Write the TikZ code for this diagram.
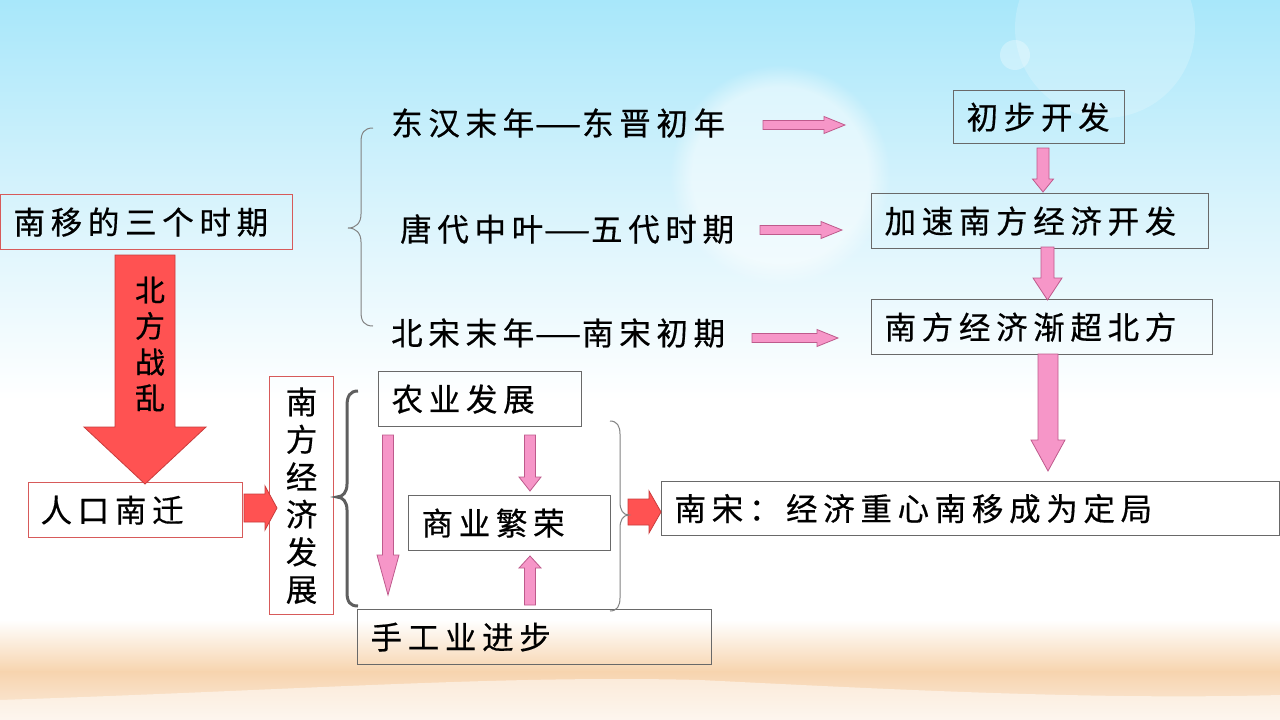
\documentclass[tikz,border=0pt]{standalone}
\usepackage{fontspec}
\newfontfamily\cjk[LetterSpace=18,FakeBold=0.5]{Noto Sans CJK SC}
\newfontfamily\cjkv[FakeBold=0.5]{Noto Sans CJK SC}
\usetikzlibrary{calc,fadings}
\definecolor{sky}{RGB}{168,231,250}
\definecolor{skymid}{RGB}{215,243,252}
\definecolor{sand}{RGB}{247,212,174}
\definecolor{cream}{RGB}{251,236,222}
\definecolor{redfill}{RGB}{255,82,82}
\definecolor{redline}{RGB}{200,60,60}
\definecolor{boxred}{RGB}{215,90,90}
\definecolor{boxgray}{RGB}{105,105,105}
\definecolor{pinkfill}{RGB}{246,150,200}
\definecolor{pinkline}{RGB}{190,90,140}
\definecolor{bracegray}{RGB}{130,130,130}
\definecolor{bracedark}{RGB}{95,95,95}
\newcommand\dash{\scalebox{1.7}[1]{—}}
\tikzset{
  txt/.style={font=\cjk\fontsize{31.5}{37.5}\selectfont},
  lbl/.style={txt, inner sep=0pt, anchor=west},
  box/.style={txt, draw=boxgray, line width=1.2pt, anchor=north west, inner xsep=13pt, inner ysep=0pt, align=left},
  rbox/.style={box, draw=boxred},
  vtxt/.style={font=\cjkv\fontsize{31.5}{37.5}\selectfont, align=center, inner sep=0pt},
  pinkarr/.style={fill=pinkfill, draw=pinkline, line width=0.8pt},
  redarr/.style={fill=redfill, draw=redline, line width=0.8pt},
  thinbrace/.style={draw=bracegray, line width=1pt},
  thickbrace/.style={draw=bracedark, line width=3pt},
}
% block arrow: style, from, to, shaft half width, head half width, head length
\newcommand\blk[6]{%
  \path[#1] let \p1=(#2), \p2=(#3), \n1={veclen(\x2-\x1,\y2-\y1)}, \n2={atan2(\y2-\y1,\x2-\x1)} in
    [shift={(\p1)}, rotate=\n2]
    (0,#4) -- ({\n1-#6},#4) -- ({\n1-#6},#5) -- (\n1,0) -- ({\n1-#6},-#5) -- ({\n1-#6},-#4) -- (0,-#4) -- cycle;%
}
\begin{document}
\begin{tikzpicture}[x=1pt,y=-1pt]
\useasboundingbox (0,0) rectangle (1280,720);
% background
\shade[top color=sky, bottom color=skymid] (0,0) rectangle (1280,200);
\shade[top color=skymid, bottom color=white] (0,199) rectangle (1280,400);
\fill[white] (0,399) rectangle (1280,621);
\shade[top color=white, bottom color=sand] (0,620) rectangle (1280,672);
\shade[top color=sand, bottom color=cream] (0,671) rectangle (1280,720);
\fill[white, opacity=0.5] (0,700) .. controls (300,690) and (500,675) .. (700,680) .. controls (900,690) and (1100,700) .. (1280,695) -- (1280,720) -- (0,720) -- cycle;
\fill[white, opacity=0.5, path fading=circle with fuzzy edge 20 percent] (780,175) circle (110);
\fill[white, opacity=0.2] (1105,28) circle (90);
\fill[white, opacity=0.3] (1015,55) circle (15);

% boxes
\node[rbox, minimum width=292pt, minimum height=55pt, text width=266pt] (period) at (0,194) {南移的三个时期};
\node[rbox, minimum width=214pt, minimum height=55pt, text width=190pt, inner xsep=12pt] (renkou) at (28,482) {人口南迁};
\node[rbox, minimum width=64pt, minimum height=238pt, inner xsep=12pt, text width=40pt, align=center, font=\cjkv\fontsize{31.5}{37.5}\selectfont] (nfjj) at (269,376) {南\\方\\经\\济\\发\\展};
\node[box, minimum width=203pt, minimum height=55pt, text width=177pt] (nongye) at (378,371) {农业发展};
\node[box, minimum width=202pt, minimum height=55pt, text width=176pt] (shangye) at (408,495) {商业繁荣};
\node[box, minimum width=354pt, minimum height=55pt, text width=328pt] (shougong) at (357,609) {手工业进步};
\node[box, minimum width=618pt, minimum height=54pt, text width=592pt] (nansong) at (661,481) {南宋：经济重心南移成为定局};
\node[box, minimum width=171pt, minimum height=53pt, text width=145pt] (chubu) at (953,90) {初步开发};
\node[box, minimum width=337pt, minimum height=55pt, text width=311pt] (jiasu) at (871,193) {加速南方经济开发};
\node[box, minimum width=341pt, minimum height=55pt, text width=315pt] (jianchao) at (871,299) {南方经济渐超北方};

% period labels
\node[lbl] (p1) at (391,123) {东汉末年\dash 东晋初年};
\node[lbl] (p2) at (400,229) {唐代中叶\dash 五代时期};
\node[lbl] (p3) at (391,333) {北宋末年\dash 南宋初期};

% arrow end points
\coordinate (bigS) at (145,255);  \coordinate (bigE) at (145,484);
\coordinate (r1S) at (244,508);   \coordinate (r1E) at (277,508);
\coordinate (r2S) at (628,512);   \coordinate (r2E) at (661,512);
\coordinate (a1S) at (763,125);   \coordinate (a1E) at (845,125);
\coordinate (a2S) at (760,230);   \coordinate (a2E) at (842,230);
\coordinate (a3S) at (752,338);   \coordinate (a3E) at (838,338);
\coordinate (v1S) at (1043,148);  \coordinate (v1E) at (1043,192);
\coordinate (v2S) at (1047.5,247);\coordinate (v2E) at (1047.5,300);
\coordinate (v3S) at (1048,354);  \coordinate (v3E) at (1048,471);
\coordinate (v4S) at (388,435);   \coordinate (v4E) at (388,595);
\coordinate (v5S) at (530,435);   \coordinate (v5E) at (530,491);
\coordinate (v6S) at (530,605);   \coordinate (v6E) at (530,556);

% red arrows
\blk{redarr}{bigS}{bigE}{30}{61}{57}
\node[vtxt, font=\cjkv\fontsize{30}{36}\selectfont] (zhanluan) at (150,344) {北\\方\\战\\乱};
\blk{redarr}{r1S}{r1E}{14}{22}{12}
\blk{redarr}{r2S}{r2E}{13}{21}{12}

% pink arrows
\blk{pinkarr}{a1S}{a1E}{4.5}{8.5}{21}
\blk{pinkarr}{a2S}{a2E}{4.5}{8.5}{21}
\blk{pinkarr}{a3S}{a3E}{4.5}{8.5}{21}
\blk{pinkarr}{v1S}{v1E}{6}{10.5}{13}
\blk{pinkarr}{v2S}{v2E}{6.5}{14.5}{22}
\blk{pinkarr}{v3S}{v3E}{10}{17}{31}
\blk{pinkarr}{v4S}{v4E}{5.5}{11}{40}
\blk{pinkarr}{v5S}{v5E}{5.5}{11}{14}
\blk{pinkarr}{v6S}{v6E}{5.5}{11}{12}

% braces
\draw[thinbrace] (373,128) .. controls (364,128) and (361,133) .. (361,142) -- (361,214)
  .. controls (361,223) and (356,228) .. (348,228) .. controls (356,228) and (361,233) .. (361,242)
  -- (361,312) .. controls (361,321) and (364,326) .. (373,326);
\draw[thickbrace] (358,391) .. controls (350,391) and (347,396) .. (347,406) -- (347,484)
  .. controls (347,492) and (343,497) .. (337,497) .. controls (343,497) and (347,502) .. (347,510)
  -- (347,592) .. controls (347,602) and (350,606) .. (358,606);
\draw[thinbrace] (610,421) .. controls (617,421) and (620,426) .. (620,434) -- (620,502)
  .. controls (620,510) and (623,515) .. (629,515) .. controls (623,515) and (620,520) .. (620,528)
  -- (620,598) .. controls (620,606) and (617,611) .. (610,611);
\end{tikzpicture}
\end{document}
